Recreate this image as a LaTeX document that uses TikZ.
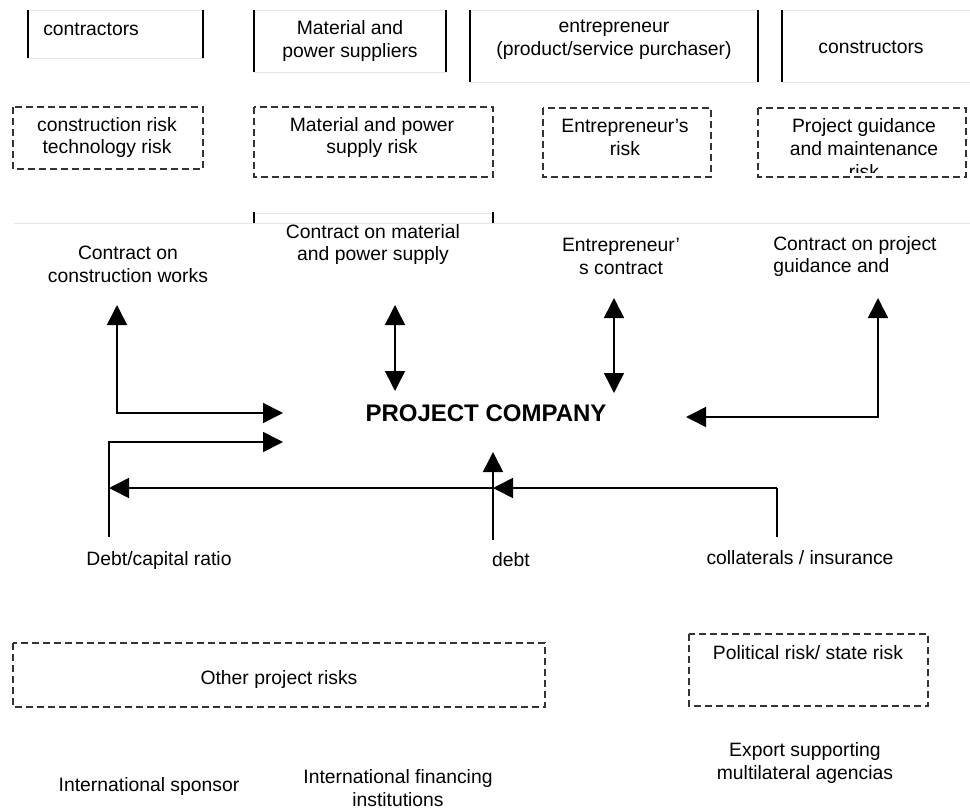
\documentclass[tikz,border=0pt]{standalone}
\usepackage{fontspec}
\setmainfont{Liberation Sans}
\usetikzlibrary{arrows.meta}

\begin{document}
\begin{tikzpicture}[x=0.75pt,y=-0.75pt,
  txt/.style={font=\fontsize{14.5}{17}\selectfont, align=center, inner sep=0pt},
  side/.style={line width=1.1pt, black},
  faint/.style={line width=0.6pt, black!10},
  riskbox/.style={draw=black!80, line width=1.1pt, dash pattern=on 5.25pt off 3pt},
  plain/.style={line width=1.2pt},
  link/.style={line width=1.2pt, -{Triangle[length=15pt,width=15pt]}},
  both/.style={line width=1.2pt, {Triangle[length=15pt,width=15pt]}-{Triangle[length=15pt,width=15pt]}}]

\useasboundingbox (0,0) rectangle (970,809);

% ---- parties (open boxes: dark sides, faint top and bottom) ----
\draw[faint] (28,10) rectangle (203,58);
\draw[side] (28,10) -- (28,58) (203,10) -- (203,58);
\draw[faint] (254,10) rectangle (446,72);
\draw[side] (254,10) -- (254,72) (446,10) -- (446,72);
\draw[faint] (470,10) rectangle (758,82);
\draw[side] (470,10) -- (470,82) (758,10) -- (758,82);
\draw[faint] (782,10) -- (980,10) (782,82) -- (980,82);
\draw[side] (782,10) -- (782,82);

\node[txt, anchor=west] (contractors) at (43,29) {contractors};
\node[txt] (suppliers) at (350,41) {Material and\\power suppliers};
\node[txt] (purchaser) at (614,40) {entrepreneur\\(product/service purchaser)};
\node[txt] (constructors) at (871,47) {constructors};

% ---- risks carried by each party ----
\draw[riskbox] (13,107) rectangle (203,169);
\node[txt] (riskA) at (107,137.5) {construction risk\\technology risk};
\draw[riskbox] (254,107) rectangle (493,177);
\node[txt] (riskB) at (372,137.5) {Material and power\\supply risk};
\draw[riskbox] (543,108) rectangle (711,177);
\node[txt] (riskC) at (625,137.5) {Entrepreneur’s\\risk};
\begin{scope}
  \clip (760,108) rectangle (964,173);
  \node[txt] (riskD) at (864,148.5) {Project guidance\\and maintenance\\risk};
\end{scope}
\draw[riskbox] (758,108) rectangle (966,177);

% ---- separator ----
\draw[faint] (14,223) -- (975,223);
\draw[faint] (254,213) -- (493,213);
\draw[side] (254,212) -- (254,223) (493,212) -- (493,223);

% ---- contracts ----
\node[txt] (c1) at (128,264.5) {Contract on\\construction works};
\node[txt] (c2) at (373,244.5) {Contract on material\\and power supply};
\node[txt] (c3) at (621,256.5) {Entrepreneur’\\s contract};
\node[txt, anchor=west, align=left] (c4) at (773,256.5) {Contract on project\\guidance and};

\node[font=\bfseries\fontsize{18}{21}\selectfont, inner sep=0pt] (pc) at (486,413) {PROJECT COMPANY};

% ---- arrow end points ----
\coordinate (a1t) at (117,305);
\coordinate (a1c) at (117,413);
\coordinate (a1e) at (283,413);
\coordinate (a2t) at (395,305);
\coordinate (a2b) at (395,391);
\coordinate (a3t) at (614,298);
\coordinate (a3b) at (614,393);
\coordinate (a4t) at (878,298);
\coordinate (a4c) at (878,417);
\coordinate (a4e) at (686,417);
\coordinate (r0) at (109,537);
\coordinate (r1) at (109,442);
\coordinate (r2) at (283,442);
\coordinate (d0) at (493,540);
\coordinate (d1) at (493,452);
\coordinate (k0) at (777,537);
\coordinate (k1) at (777,488);
\coordinate (k2) at (493,488);
\coordinate (k3) at (109,488);

\draw[both] (a1t) -- (a1c) -- (a1e);
\draw[both] (a2t) -- (a2b);
\draw[both] (a3t) -- (a3b);
\draw[both] (a4t) -- (a4c) -- (a4e);
\draw[link] (r0) -- (r1) -- (r2);
\draw[link] (d0) -- (d1);
\draw[plain] (k0) -- (k1);
\draw[link] (k1) -- (k2);
\draw[link] (k2) -- (k3);

\node[txt] (ratio) at (159,560) {Debt/capital ratio};
\node[txt] (debt) at (511,560) {debt};
\node[txt] (collat) at (800,558) {collaterals / insurance};

% ---- lower risks ----
\draw[riskbox] (13,643) rectangle (545,707);
\node[txt] (other) at (279,679) {Other project risks};
\draw[riskbox] (689,634) rectangle (928,706);
\node[txt] (political) at (808,653) {Political risk/ state risk};

% ---- financing parties ----
\node[txt] (sponsor) at (149,786) {International sponsor};
\node[txt] (ifi) at (398,788) {International financing\\institutions};
\node[txt] (export) at (805,763) {Export supporting\\multilateral agencias};

\end{tikzpicture}
\end{document}
